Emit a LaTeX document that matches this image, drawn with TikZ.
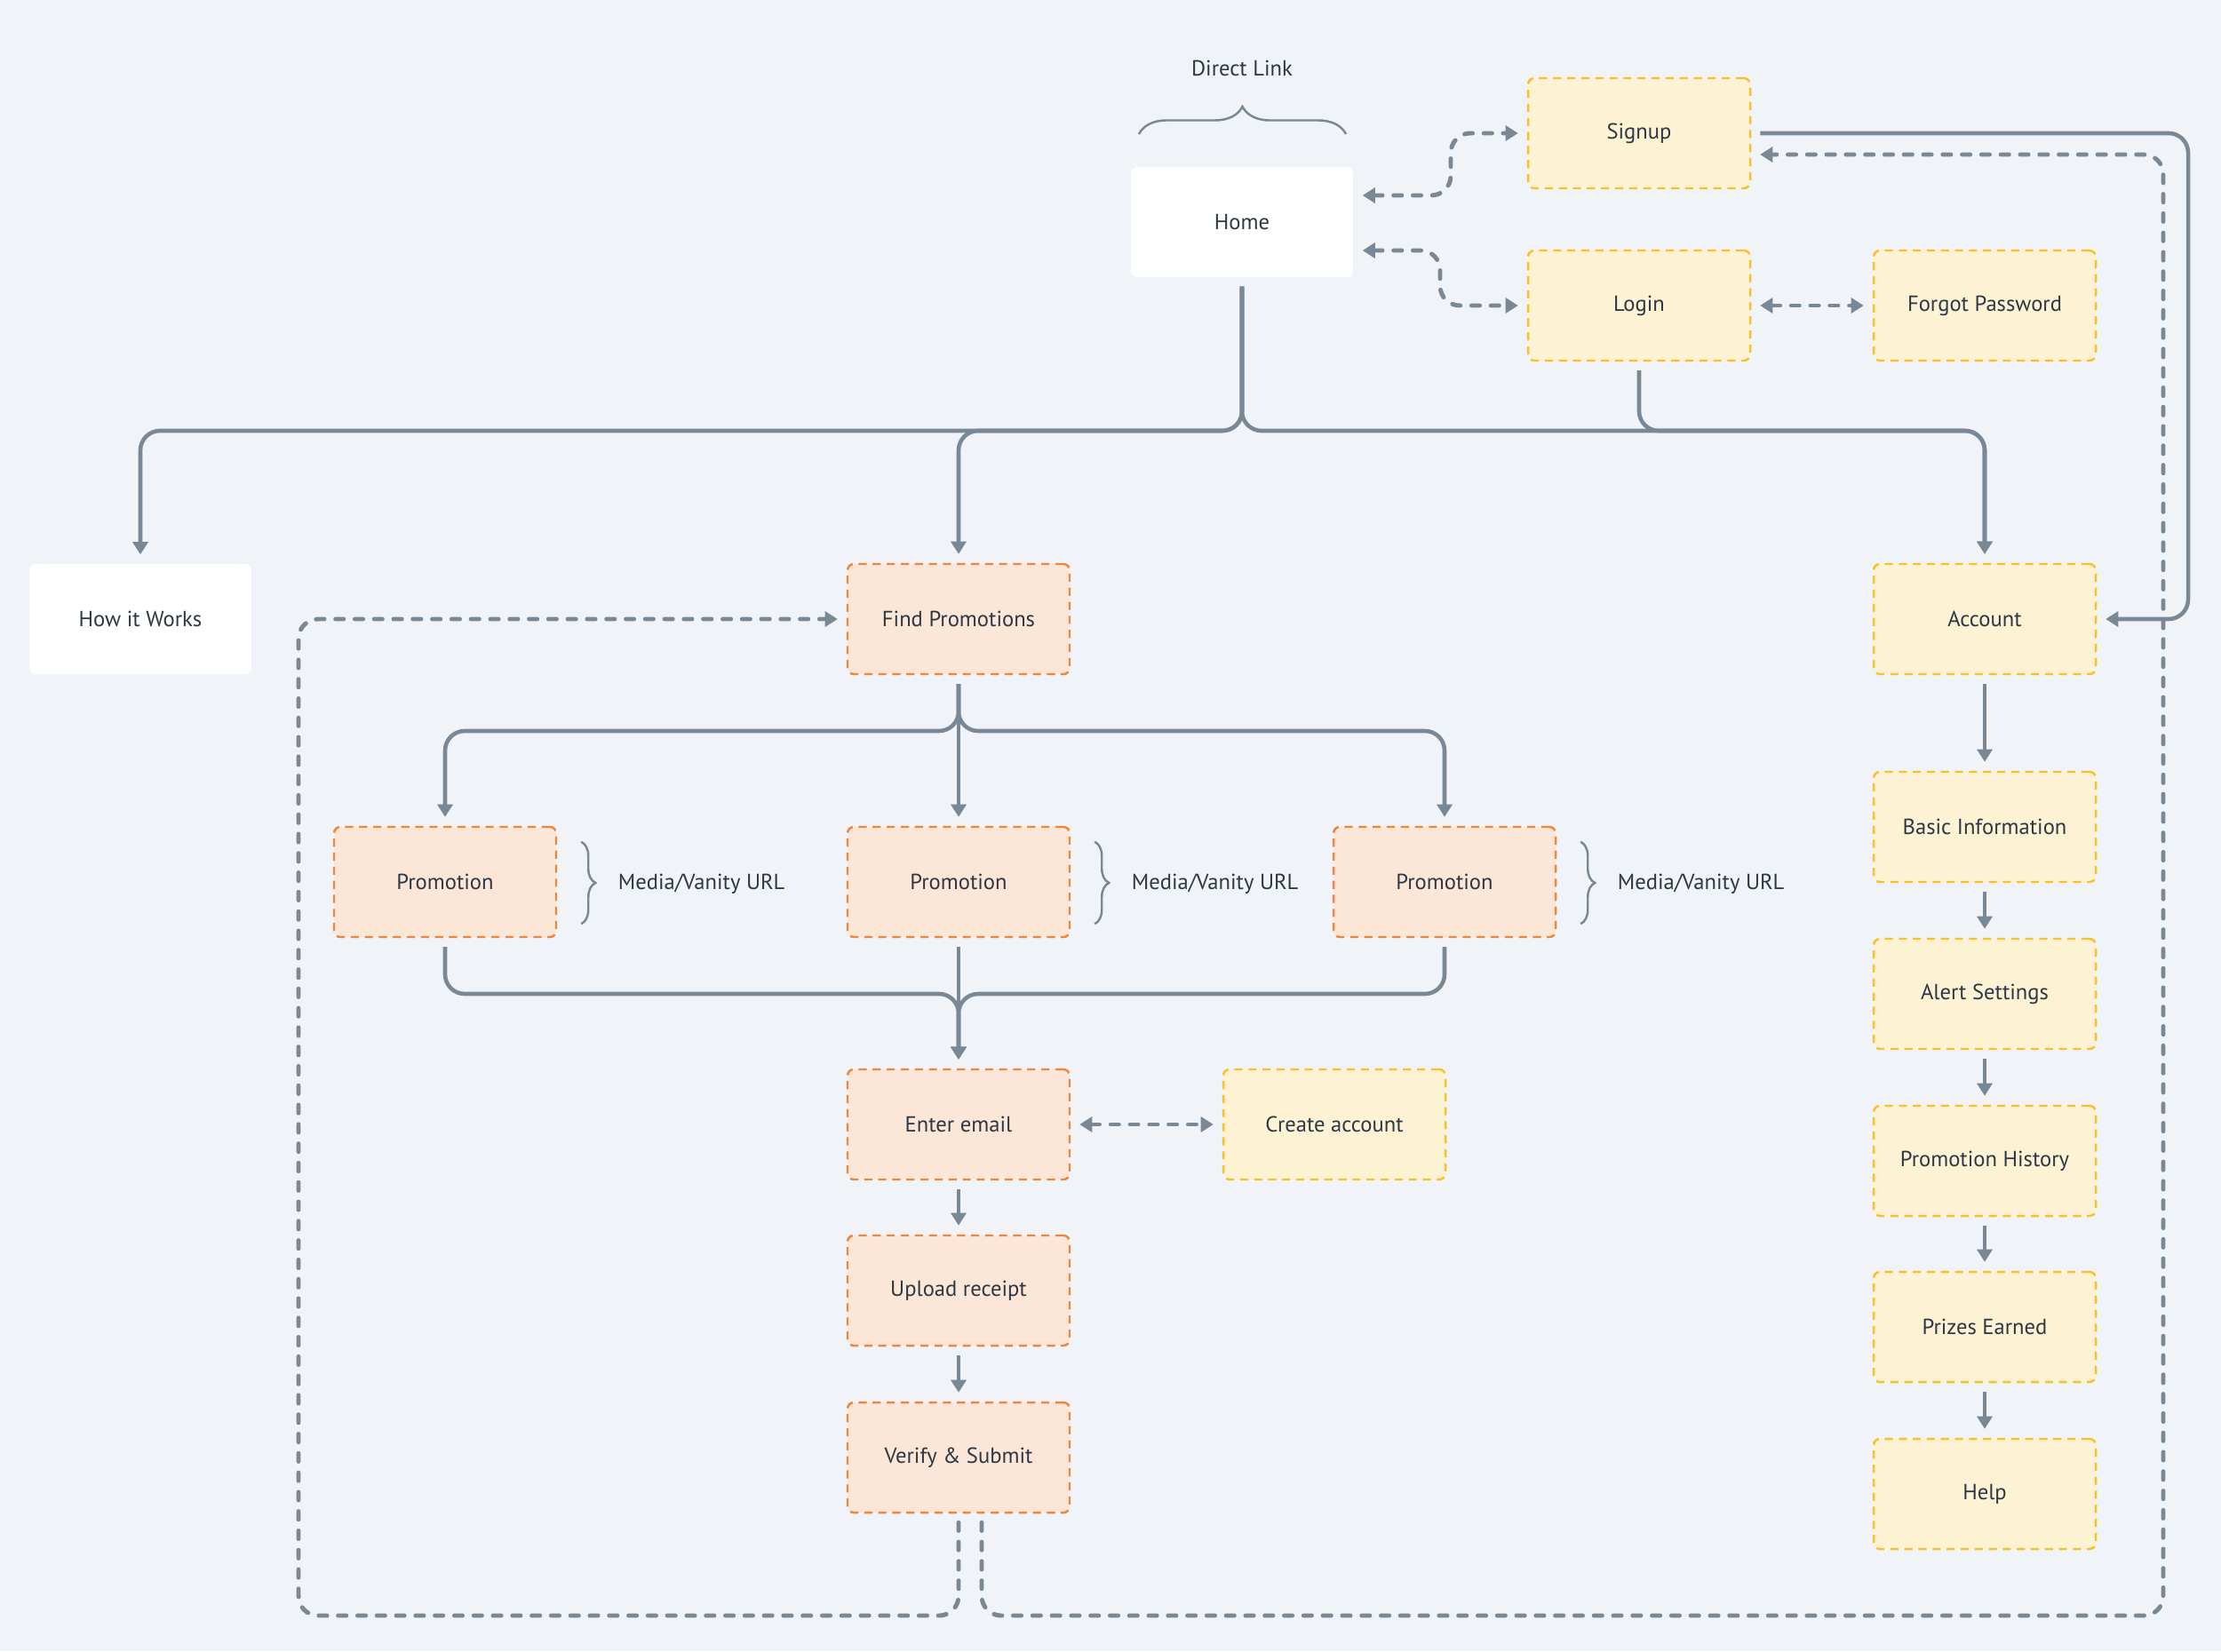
\documentclass[tikz,border=0pt]{standalone}
\usepackage{fontspec}
\setmainfont{PT Sans}
\usetikzlibrary{arrows.meta, positioning, decorations.pathreplacing}

\definecolor{bgcol}{RGB}{240,243,247}
\definecolor{linecol}{RGB}{122,136,150}
\definecolor{txtcol}{RGB}{44,56,68}
\definecolor{yelfill}{RGB}{253,242,212}
\definecolor{yeldraw}{RGB}{250,192,40}
\definecolor{orfill}{RGB}{251,230,216}
\definecolor{ordraw}{RGB}{238,135,60}

\tikzset{
  page/.style={rectangle, rounded corners=2pt, minimum width=2.5cm, minimum height=1.24cm,
    font=\fontsize{7}{8}\selectfont, text=txtcol},
  plainpage/.style={page, fill=white},
  yelpage/.style={page, fill=yelfill, draw=yeldraw, line width=0.7pt, dash pattern=on 2.6pt off 1.9pt},
  orpage/.style={page, fill=orfill, draw=ordraw, line width=0.7pt, dash pattern=on 2.6pt off 1.9pt},
  flow/.style={draw=linecol, line width=1.3pt, rounded corners=0.22cm,
    shorten <=0.1cm, shorten >=0.1cm, -{Triangle[width=4.8pt,length=4pt]}},
  back/.style={flow, line width=1.4pt, line cap=round, dash pattern=on 2.6pt off 3.6pt},
  twoway/.style={back, {Triangle[width=4.8pt,length=4pt]}-{Triangle[width=4.8pt,length=4pt]}},
  brc/.style={draw=linecol, line width=0.7pt, decorate, decoration={brace, amplitude=#1}},
  note/.style={font=\fontsize{7}{8}\selectfont, text=txtcol, inner sep=0pt}
}

\begin{document}
\begin{tikzpicture}
  \fill[bgcol] (0,0) rectangle (25,-18.59);
  \useasboundingbox (0,0) rectangle (25,-18.59);

  % top row
  \node[plainpage] (home) at (13.98,-2.50) {Home};
  \node[note] (dlink) at (13.98,-0.77) {Direct Link};
  \node[yelpage] (signup) at (18.45,-1.50) {Signup};
  \node[yelpage] (login) at (18.45,-3.44) {Login};
  \node[yelpage] (forgot) at (22.34,-3.44) {Forgot Password};

  % main sections
  \node[plainpage] (how) at (1.58,-6.97) {How it Works};
  \node[orpage] (find) at (10.79,-6.97) {Find Promotions};
  \node[yelpage] (account) at (22.34,-6.97) {Account};

  % promotions flow
  \node[orpage] (promoA) at (5.01,-9.93) {Promotion};
  \node[orpage] (promoB) at (10.79,-9.93) {Promotion};
  \node[orpage] (promoC) at (16.26,-9.93) {Promotion};
  \node[orpage] (email) at (10.79,-12.66) {Enter email};
  \node[yelpage] (create) at (15.02,-12.66) {Create account};
  \node[orpage] (upload) at (10.79,-14.53) {Upload receipt};
  \node[orpage] (verify) at (10.79,-16.41) {Verify \& Submit};

  % account pages
  \node[yelpage] (basic) at (22.34,-9.31) {Basic Information};
  \node[yelpage] (alerts) at (22.34,-11.19) {Alert Settings};
  \node[yelpage] (history) at (22.34,-13.07) {Promotion History};
  \node[yelpage] (prizes) at (22.34,-14.94) {Prizes Earned};
  \node[yelpage] (help) at (22.34,-16.82) {Help};

  \coordinate (topbus) at (0,-4.85);
  \coordinate (findbus) at (0,-8.23);
  \coordinate (mergebus) at (0,-11.19);

  % braces
  \draw[brc=0.31cm] (12.82,-1.51) -- (15.15,-1.51);
  \draw[brc=0.16cm] ([xshift=.27cm,yshift=-.18cm]promoA.north east) -- ([xshift=.27cm,yshift=.16cm]promoA.south east);
  \draw[brc=0.16cm] ([xshift=.27cm,yshift=-.18cm]promoB.north east) -- ([xshift=.27cm,yshift=.16cm]promoB.south east);
  \draw[brc=0.16cm] ([xshift=.27cm,yshift=-.18cm]promoC.north east) -- ([xshift=.27cm,yshift=.16cm]promoC.south east);
  \node[note, anchor=west] (urlA) at ([xshift=.68cm,yshift=-.02cm]promoA.east) {Media/Vanity URL};
  \node[note, anchor=west] (urlB) at ([xshift=.68cm,yshift=-.02cm]promoB.east) {Media/Vanity URL};
  \node[note, anchor=west] (urlC) at ([xshift=.68cm,yshift=-.02cm]promoC.east) {Media/Vanity URL};

  % home tree
  \draw[flow] (home.south) |- (how.north |- topbus) -- (how.north);
  \draw[flow] (home.south) |- (find.north |- topbus) -- (find.north);
  \draw[flow] (home.south) |- (account.north |- topbus) -- (account.north);
  \draw[flow] (login.south) |- (account.north |- topbus) -- (account.north);
  \draw[flow] (signup.east) -- (24.63,-1.50) |- (account.east);

  % promotions
  \draw[flow] (find.south) |- (promoA.north |- findbus) -- (promoA.north);
  \draw[flow] (find.south) -- (promoB.north);
  \draw[flow] (find.south) |- (promoC.north |- findbus) -- (promoC.north);
  \draw[flow] (promoA.south) |- (email.north |- mergebus) -- (email.north);
  \draw[flow] (promoB.south) -- (email.north);
  \draw[flow] (promoC.south) |- (email.north |- mergebus) -- (email.north);
  \draw[flow] (email) -- (upload);
  \draw[flow] (upload) -- (verify);

  % account
  \draw[flow] (account) -- (basic);
  \draw[flow] (basic) -- (alerts);
  \draw[flow] (alerts) -- (history);
  \draw[flow] (history) -- (prizes);
  \draw[flow] (prizes) -- (help);

  % dashed links
  \draw[twoway] ([yshift=.30cm]home.east) -| (16.33,-1.50) -- (signup.west);
  \draw[twoway] ([yshift=-.32cm]home.east) -| (16.21,-3.44) -- (login.west);
  \draw[twoway] (login) -- (forgot);
  \draw[twoway] (email) -- (create);
  \draw[back] (verify.south) |- (3.36,-18.19) |- (find.west);
  \draw[back] ([xshift=.26cm]verify.south) |- (24.35,-18.19) |- ([yshift=-.24cm]signup.east);
\end{tikzpicture}
\end{document}
